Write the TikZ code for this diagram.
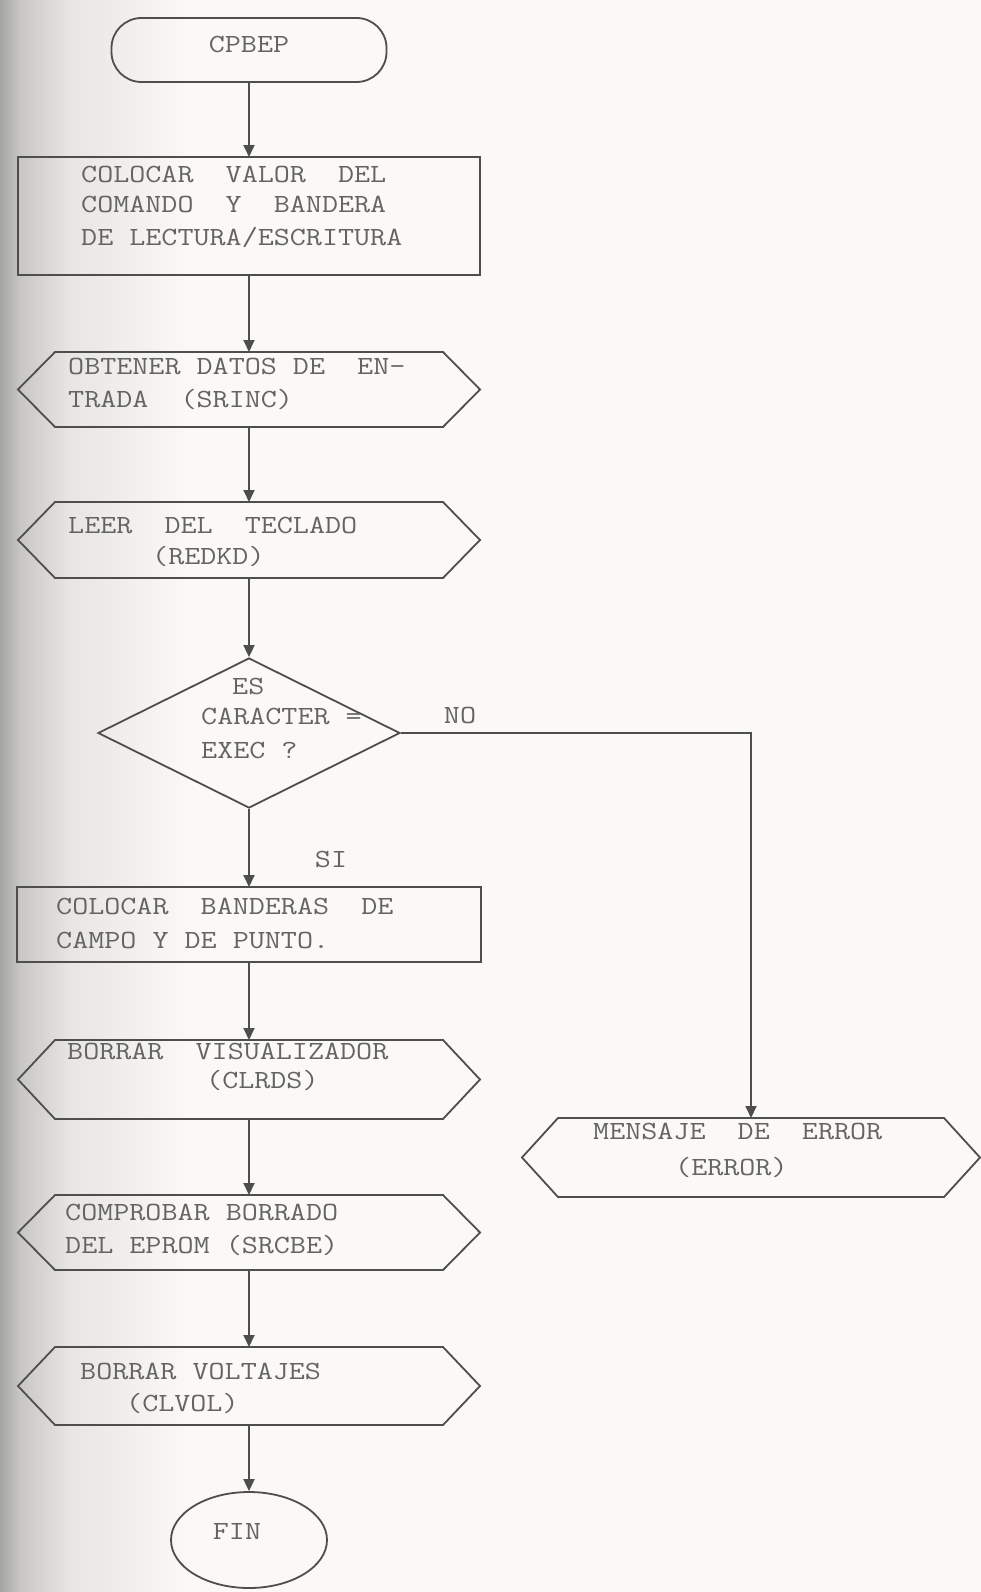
\documentclass[tikz,border=0pt]{standalone}
\usepackage{graphicx}
\usetikzlibrary{arrows.meta,shapes.geometric,calc}
\definecolor{paper}{RGB}{251,249,245}
\definecolor{ink}{RGB}{78,78,78}
\definecolor{txtc}{RGB}{100,100,100}
\definecolor{shA}{RGB}{165,165,163}
\definecolor{shB}{RGB}{200,199,196}
\definecolor{shC}{RGB}{232,230,226}
\frenchspacing
\newcommand\tw[1]{\scalebox{1.19}[1]{#1}}
\tikzset{
  shapeline/.style={draw=ink, line width=1.8pt},
  conn/.style={draw=ink, line width=1.8pt, -{Triangle[length=12pt,width=11pt]}},
  txt/.style={font=\ttfamily\fontsize{26.2}{31}\selectfont, text=txtc, inner sep=0pt, anchor=base west},
  ctxt/.style={txt, anchor=base},
  box/.style={shapeline, inner sep=0pt, outer sep=0pt},
}
\newcommand\hexbox[6]{%
  \node[inner sep=0pt, outer sep=0pt, minimum width=#4pt, minimum height=#5pt] (#1) at (#2,#3) {};
  \draw[shapeline, line join=miter] (#1.west) -- ([xshift=#6pt]#1.north west) -- ([xshift=-#6pt]#1.north east) -- (#1.east) -- ([xshift=-#6pt]#1.south east) -- ([xshift=#6pt]#1.south west) -- cycle;}
\begin{document}
\begin{tikzpicture}[x=1pt,y=-1pt]
\useasboundingbox (0,0) rectangle (981,1592);
% paper and scan shadow
\fill[paper] (0,0) rectangle (981,1592);
\shade[left color=shA, right color=shB] (0,0) rectangle (20,1592);
\shade[left color=shB, right color=shC] (20,0) rectangle (70,1592);
\shade[left color=shC, right color=paper] (70,0) rectangle (190,1592);

% start
\node[box, rounded corners=30pt, minimum width=275pt, minimum height=64pt] (start) at (249,50) {};
\node[ctxt] (tstart) at (249,53) {\tw{CPBEP}};

% rect 1
\node[box, minimum width=462pt, minimum height=118pt] (r1) at (249,216) {};
\node[txt] (r1a) at (81,182) {\tw{COLOCAR~~VALOR~~DEL}};
\node[txt] (r1b) at (81,212) {\tw{COMANDO~~Y~~BANDERA}};
\node[txt] (r1c) at (81,245) {\tw{DE LECTURA/ESCRITURA}};

% hex 1
\hexbox{h1}{249}{389.5}{462}{75}{37}
\node[txt] (h1a) at (68,374) {\tw{OBTENER DATOS DE~~EN-}};
\node[txt] (h1b) at (68,407) {\tw{TRADA~~(SRINC)}};

% hex 2
\hexbox{h2}{249}{540}{462}{76}{37}
\node[txt] (h2a) at (68,533) {\tw{LEER~~DEL~~TECLADO}};
\node[txt] (h2b) at (152,564) {\tw{(REDKD)}};

% decision
\node[shapeline, diamond, aspect=2, minimum width=302pt, minimum height=150pt, inner sep=0pt] (d) at (249,733) {};
\node[txt] (da) at (232,694) {\tw{ES}};
\node[txt] (db) at (201,724) {\tw{CARACTER =}};
\node[txt] (dc) at (201,758) {\tw{EXEC ?}};
\node[ctxt] (no) at (460,723) {\tw{NO}};
\node[ctxt] (si) at (331,867) {\tw{SI}};

% rect 2
\node[box, minimum width=464pt, minimum height=75pt] (r2) at (249,924.5) {};
\node[txt] (r2a) at (56,914) {\tw{COLOCAR~~BANDERAS~~DE}};
\node[txt] (r2b) at (56,948) {\tw{CAMPO Y DE PUNTO.}};

% hex 3
\hexbox{h3}{249}{1079.5}{462}{79}{37}
\node[txt] (h3a) at (67,1059) {\tw{BORRAR~~VISUALIZADOR}};
\node[txt] (h3b) at (206,1088) {\tw{(CLRDS)}};

% hex 4
\hexbox{h4}{249}{1232.5}{462}{75}{37}
\node[txt] (h4a) at (65,1220) {\tw{COMPROBAR BORRADO}};
\node[txt] (h4b) at (65,1253) {\tw{DEL EPROM (SRCBE)}};

% hex 5
\hexbox{h5}{249}{1386}{462}{78}{37}
\node[txt] (h5a) at (80,1379) {\tw{BORRAR VOLTAJES}};
\node[txt] (h5b) at (126,1411) {\tw{(CLVOL)}};

% end
\node[shapeline, ellipse, minimum width=156pt, minimum height=96pt, inner sep=0pt] (fin) at (249,1540) {};
\node[ctxt] (tfin) at (237,1539) {\tw{FIN}};

% error
\hexbox{err}{751}{1157.5}{458}{79}{36}
\node[txt] (ea) at (593,1139) {\tw{MENSAJE~~DE~~ERROR}};
\node[txt] (eb) at (675,1175) {\tw{(ERROR)}};

% connectors
\draw[conn] (start.south) -- (r1.north);
\draw[conn] (r1.south) -- (h1.north);
\draw[conn] (h1.south) -- (h2.north);
\draw[conn] (h2.south) -- (d.north);
\draw[conn] (d.south) -- (r2.north);
\draw[conn] (r2.south) -- (h3.north);
\draw[conn] (h3.south) -- (h4.north);
\draw[conn] (h4.south) -- (h5.north);
\draw[conn] (h5.south) -- (fin.north);
\draw[conn] (d.east) -| (err.north);
\end{tikzpicture}
\end{document}
